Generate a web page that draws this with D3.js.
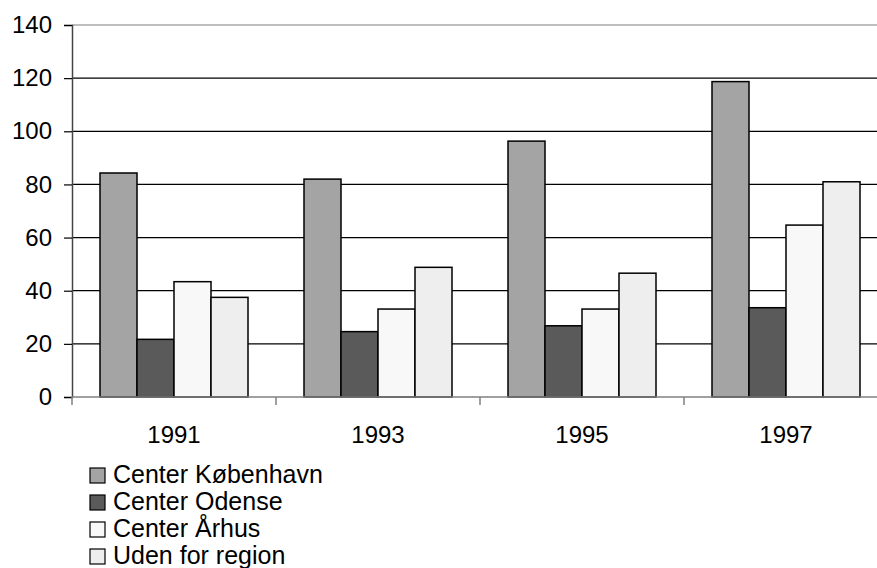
<!DOCTYPE html>
<html>
<head>
<meta charset="utf-8">
<script src="https://cdn.jsdelivr.net/npm/d3@7"></script>
<style>
  body { margin: 0; background: #fff; }
  text { font-family: "Liberation Sans", Arial, sans-serif; }
</style>
</head>
<body>
<svg width="877" height="568"></svg>
<script>
var years = ["1991", "1993", "1995", "1997"];
var seriesNames = ["Center København", "Center Odense", "Center Århus", "Uden for region"];
var kobenhavn = [84.3, 82.0, 96.3, 118.7];
var odense = [21.7, 24.6, 26.8, 33.6];
var aarhus = [43.4, 33.1, 33.1, 64.7];
var udenfor = [37.5, 48.8, 46.6, 81.0];
var yTicks = [0, 20, 40, 60, 80, 100, 120, 140];
var fills = ["#a4a4a4", "#5a5a5a", "#f8f8f8", "#eeeeee"];

var series = [kobenhavn, odense, aarhus, udenfor];

var svg = d3.select("svg");
var plotLeft = 72, plotRight = 888, plotTop = 25, plotBottom = 397;

var x = d3.scaleBand().domain(years).range([plotLeft, plotRight]);
// bar group is 148px inside each 204px category
var xInner = d3.scaleBand().domain(d3.range(4))
  .range([28, x.bandwidth() - 28]).padding(0);

var y = d3.scaleLinear().domain([0, 140]).range([plotBottom, plotTop]);

// gridlines
svg.append("g").selectAll("line")
  .data(yTicks.filter(function(d) { return d > 0; }))
  .enter().append("line")
  .attr("x1", plotLeft).attr("x2", plotRight)
  .attr("y1", function(d) { return y(d); })
  .attr("y2", function(d) { return y(d); })
  .attr("stroke", function(d) { return d == 140 ? "#808080" : "#000"; })
  .attr("stroke-width", 1.2);

// bars
var groups = svg.append("g").selectAll("g")
  .data(years)
  .enter().append("g")
  .attr("transform", function(d) { return "translate(" + x(d) + ",0)"; });

groups.selectAll("rect")
  .data(function(d, i) { return series.map(function(s, k) { return {k: k, v: s[i]}; }); })
  .enter().append("rect")
  .attr("x", function(d) { return xInner(d.k); })
  .attr("width", xInner.bandwidth())
  .attr("y", function(d) { return y(d.v); })
  .attr("height", function(d) { return plotBottom - y(d.v); })
  .attr("fill", function(d) { return fills[d.k]; })
  .attr("stroke", "#000")
  .attr("stroke-width", 1.5);

// y axis
var yAxis = svg.append("g")
  .attr("transform", "translate(" + plotLeft + ",0)")
  .call(d3.axisLeft(y).tickValues(yTicks).tickSize(8).tickPadding(12).tickFormat(d3.format("d")));
yAxis.select(".domain").attr("stroke", "#444").attr("stroke-width", 1.5);
yAxis.selectAll(".tick line").attr("stroke", "#000").attr("stroke-width", 1.2);
yAxis.selectAll("text").attr("font-size", 24).attr("fill", "#000")
  .attr("font-family", "Liberation Sans, Arial, sans-serif");

// x axis
var xAxis = svg.append("g")
  .attr("transform", "translate(0," + plotBottom + ")");
xAxis.append("line")
  .attr("x1", plotLeft).attr("x2", plotRight)
  .attr("stroke", "#808080").attr("stroke-width", 1.5);
xAxis.selectAll("line.tk")
  .data(years.concat(["end"]))
  .enter().append("line").attr("class", "tk")
  .attr("x1", function(d, i) { return plotLeft + i * x.step(); })
  .attr("x2", function(d, i) { return plotLeft + i * x.step(); })
  .attr("y1", 0).attr("y2", 8)
  .attr("stroke", "#808080").attr("stroke-width", 1.5);
xAxis.selectAll("text")
  .data(years)
  .enter().append("text")
  .attr("x", function(d) { return x(d) + x.bandwidth() / 2; })
  .attr("y", 46)
  .attr("text-anchor", "middle")
  .attr("font-size", 24)
  .text(function(d) { return d; });

// legend
var legend = svg.append("g").selectAll("g")
  .data(seriesNames)
  .enter().append("g")
  .attr("transform", function(d, i) { return "translate(90," + (483 + i * 27) + ")"; });
legend.append("rect")
  .attr("x", 0).attr("y", -15).attr("width", 15).attr("height", 15)
  .attr("fill", function(d, i) { return fills[i]; })
  .attr("stroke", "#000").attr("stroke-width", 1.2);
legend.append("text")
  .attr("x", 23).attr("y", 0)
  .attr("font-size", 25)
  .text(function(d) { return d; });
</script>
</body>
</html>
